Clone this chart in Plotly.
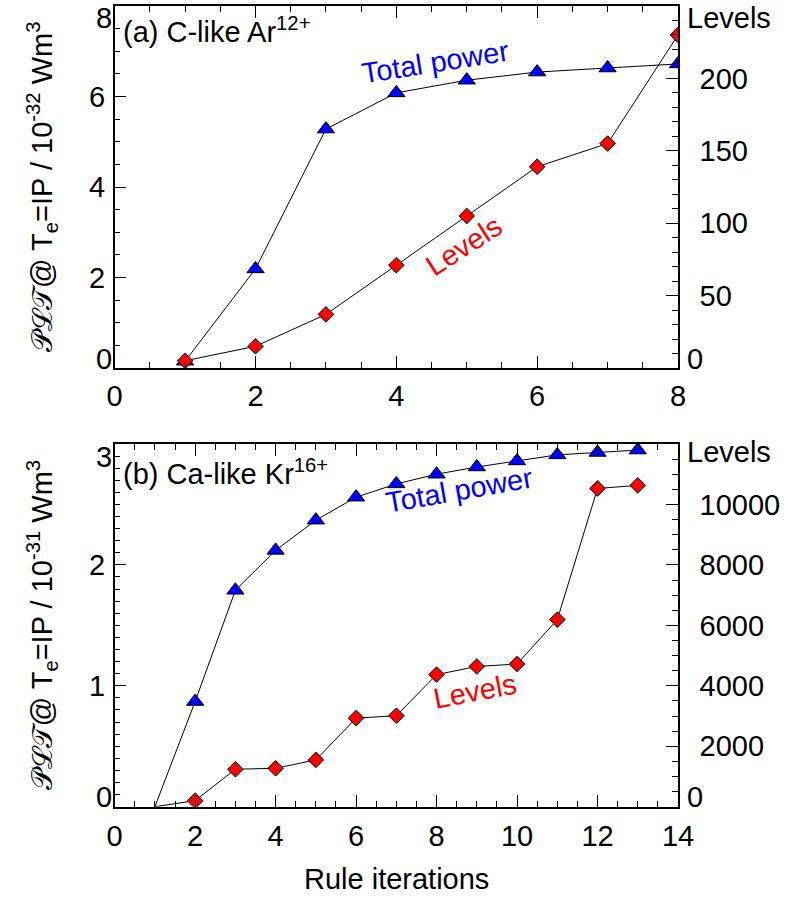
import plotly.graph_objects as go

# ---------------- data ----------------
iter_a = [1, 2, 3, 4, 5, 6, 7, 8]
power_a = [0.15, 2.19, 5.28, 6.08, 6.36, 6.54, 6.63, 6.72]
levels_a = [5, 15, 37, 71, 105, 139, 155, 230]

iter_b = [1, 2, 3, 4, 5, 6, 7, 8, 9, 10, 11, 12, 13]
power_b = [0.0, 0.87, 1.79, 2.12, 2.37, 2.56, 2.67, 2.75, 2.81, 2.86, 2.91, 2.93, 2.95]
levels_b = [0, 200, 1240, 1270, 1550, 2930, 3010, 4370, 4640, 4720, 6190, 10530, 10630]

left_ticks_a = [0, 2, 4, 6, 8]
right_ticks_a = [0, 50, 100, 150, 200, 250]
left_ticks_b = [0, 1, 2, 3]
right_ticks_b = [0, 2000, 4000, 6000, 8000, 10000, 12000]

FONT = "Liberation Sans, Arial, Helvetica, sans-serif"
W, H = 790, 900
XL, XR = 110, 691
TOP_A, BOT_A = 6, 368
TOP_B, BOT_B = 444, 806.7

dom_x = [XL / W, XR / W]
dom_a = [1 - BOT_A / H, 1 - TOP_A / H]
dom_b = [1 - BOT_B / H, 1 - TOP_B / H]

fig = go.Figure()

def add_panel(xs, pw, lv, xa, ya, ya2, hide_first):
    sz_t = [15] * len(xs)
    sz_d = [12] * len(xs)
    if hide_first:
        sz_t[0] = 0
        sz_d[0] = 0
    fig.add_trace(go.Scatter(
        x=xs, y=pw, xaxis=xa, yaxis=ya, mode="lines+markers",
        line=dict(color="black", width=1),
        marker=dict(symbol="triangle-up", size=sz_t, color="#0000ff", opacity=1,
                    line=dict(color="black", width=1)),
        showlegend=False))
    fig.add_trace(go.Scatter(
        x=xs, y=lv, xaxis=xa, yaxis=ya2, mode="lines+markers",
        line=dict(color="black", width=1),
        marker=dict(symbol="diamond", size=sz_d, color="#ff0000", opacity=1,
                    line=dict(color="black", width=1)),
        showlegend=False))

add_panel(iter_a, power_a, levels_a, "x", "y", "y2", False)
add_panel(iter_b, power_b, levels_b, "x2", "y3", "y4", True)

tickfont = dict(family=FONT, size=29, color="black")
axis_common = dict(showline=True, linecolor="black", linewidth=1.5,
                   ticks="inside", ticklen=12, tickwidth=1.2, tickcolor="black",
                   showgrid=False, zeroline=False, tickfont=tickfont)

def inner(vals):
    # end labels are drawn separately (shifted inwards, as in the original)
    return vals[1:-1]

fig.update_layout(
    width=W, height=H, margin=dict(l=0, r=0, t=0, b=0),
    paper_bgcolor="white", plot_bgcolor="white",
    font=dict(family=FONT, size=29, color="black"),
    xaxis=dict(domain=dom_x, range=[0, 8], anchor="y", tickvals=[0, 2, 4, 6, 8],
               mirror="ticks", ticklabelstandoff=1,
               minor=dict(dtick=0.5, ticks="inside", ticklen=6, tickcolor="black"),
               **axis_common),
    yaxis=dict(domain=dom_a, range=[0, 8], anchor="x", tickvals=inner(left_ticks_a),
               ticktext=[str(v) for v in inner(left_ticks_a)], ticklabelstandoff=2,
               minor=dict(dtick=0.5, ticks="inside", ticklen=6, tickcolor="black"),
               **axis_common),
    yaxis2=dict(range=[0, 250], overlaying="y", side="right", anchor="x",
                tickvals=inner(right_ticks_a),
                ticktext=[str(v) for v in inner(right_ticks_a)], ticklabelstandoff=14,
                minor=dict(dtick=10, ticks="inside", ticklen=6, tickcolor="black"),
                **axis_common),
    xaxis2=dict(domain=dom_x, range=[0, 14], anchor="y3",
                tickvals=[0, 2, 4, 6, 8, 10, 12, 14],
                mirror="ticks", ticklabelstandoff=3,
                minor=dict(dtick=0.5, ticks="inside", ticklen=6, tickcolor="black"),
                **axis_common),
    yaxis3=dict(domain=dom_b, range=[0, 3], anchor="x2", tickvals=inner(left_ticks_b),
                ticktext=[str(v) for v in inner(left_ticks_b)], ticklabelstandoff=2,
                minor=dict(dtick=0.1, ticks="inside", ticklen=6, tickcolor="black"),
                **axis_common),
    yaxis4=dict(range=[0, 12000], overlaying="y3", side="right", anchor="x2",
                tickvals=inner(right_ticks_b),
                ticktext=[str(v) for v in inner(right_ticks_b)], ticklabelstandoff=14,
                minor=dict(dtick=500, ticks="inside", ticklen=6, tickcolor="black"),
                **axis_common),
)

ann = []
def end_label(text, yref, yval, side, anchor_v, yshift):
    if side == "left":
        ann.append(dict(text=text, xref="paper", x=XL / W, xanchor="right", xshift=-1,
                        yref=yref, y=yval, yanchor=anchor_v, yshift=yshift,
                        showarrow=False, font=tickfont))
    else:
        ann.append(dict(text=text, xref="paper", x=XR / W, xanchor="left", xshift=7,
                        yref=yref, y=yval, yanchor=anchor_v, yshift=yshift,
                        showarrow=False, font=tickfont))

end_label(str(left_ticks_a[-1]), "y", left_ticks_a[-1], "left", "top", 6)
end_label(str(left_ticks_a[0]), "y", left_ticks_a[0], "left", "bottom", -9)
end_label("Levels", "y2", right_ticks_a[-1], "right", "top", 6)
end_label(str(right_ticks_a[0]), "y2", right_ticks_a[0], "right", "bottom", -9)
end_label(str(left_ticks_b[-1]), "y3", left_ticks_b[-1], "left", "top", 5)
end_label(str(left_ticks_b[0]), "y3", left_ticks_b[0], "left", "bottom", -8)
end_label("Levels", "y4", right_ticks_b[-1], "right", "top", 10)
end_label(str(right_ticks_b[0]), "y4", right_ticks_b[0], "right", "bottom", -8)

def txt(text, x, y, angle=0, color="black", xanchor="center"):
    ann.append(dict(text=text, xref="paper", yref="paper", x=x / W, y=1 - y / H,
                    xanchor=xanchor, yanchor="middle", textangle=angle,
                    showarrow=False, font=dict(family=FONT, size=29, color=color)))

# panel labels
txt("(a) C-like Ar<sup>12+</sup>", 117, 30, xanchor="left")
txt("(b) Ca-like Kr<sup>16+</sup>", 117, 472, xanchor="left")
# curve labels
txt("Total power", 441, 62, -9, "#0000ff")
txt("Levels", 470, 246, -33, "#ff0000")
txt("Total power", 466, 490, -10, "#0000ff")
txt("Levels", 482, 691, -11, "#ff0000")
# axis titles
txt("\U0001D4AB\u2112\U0001D4AF@ T<sub>e</sub>=IP / 10<sup>-32</sup> Wm<sup>3</sup>",
    35, (TOP_A + BOT_A) / 2, -90)
txt("\U0001D4AB\u2112\U0001D4AF@ T<sub>e</sub>=IP / 10<sup>-31</sup> Wm<sup>3</sup>",
    35, (TOP_B + BOT_B) / 2, -90)
txt("Rule iterations", (XL + XR) / 2, 879)

fig.update_layout(annotations=ann)
fig.write_html("out.html")
